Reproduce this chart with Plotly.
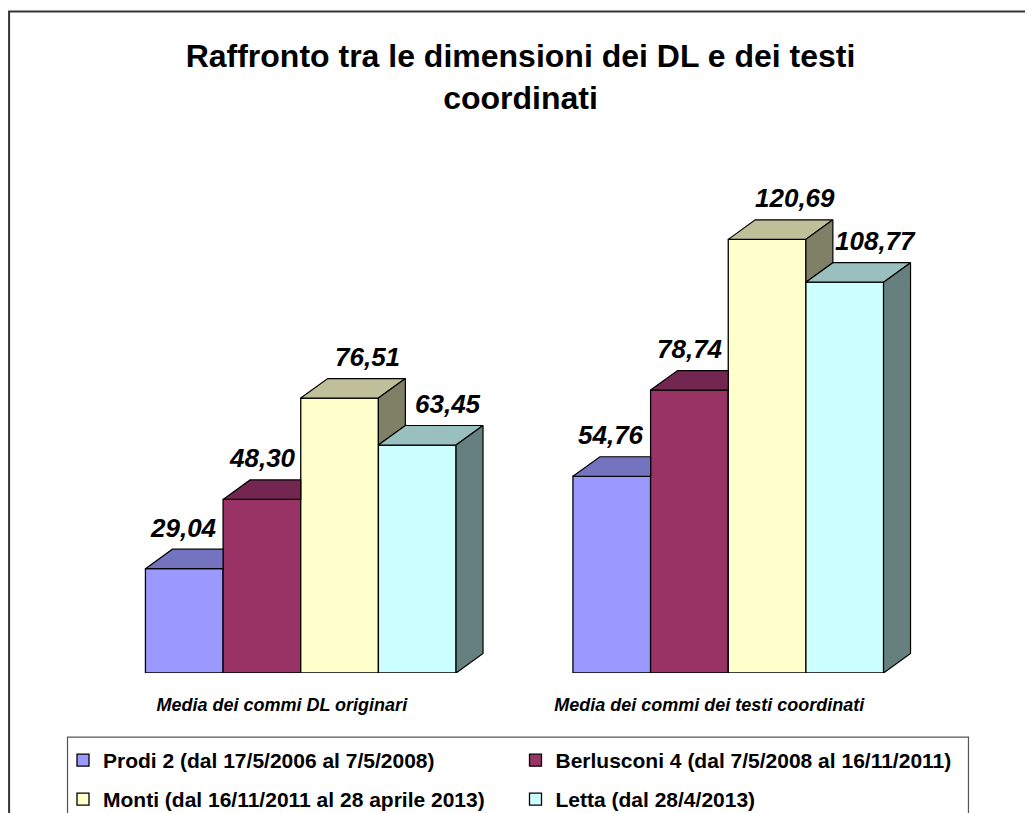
import plotly.graph_objects as go

# ---------------- data ----------------
categories = ["Media dei commi DL originari", "Media dei commi dei testi coordinati"]
series_names = [
    "Prodi 2 (dal 17/5/2006 al 7/5/2008)",
    "Berlusconi 4 (dal 7/5/2008 al 16/11/2011)",
    "Monti (dal 16/11/2011 al 28 aprile 2013)",
    "Letta (dal 28/4/2013)",
]
prodi = [29.04, 54.76]
berlusconi = [48.30, 78.74]
monti = [76.51, 120.69]
letta = [63.45, 108.77]
title_text = "Raffronto tra le dimensioni dei DL e dei testi<br>coordinati"

series_values = [prodi, berlusconi, monti, letta]

# ---------------- style ----------------
FONT = "Liberation Sans, Arial, sans-serif"
front_colors = ["#9999FF", "#993366", "#FFFFCC", "#CCFFFF"]
top_colors = ["#7373BF", "#732650", "#BFBF99", "#99BFBF"]
side_colors = ["#4D4D80", "#4D1A33", "#808066", "#668080"]
label_dx_px = [-1, 1, 28, 31]     # horizontal nudge of value labels (px)
label_dy_px = 41                   # value label height above bar top (px)
cat_label_dx_px = -19              # category labels sit slightly left
# legend entry placement on the page (left x, row centre y) in screen px
legend_pos = [(63, 759), (515.5, 759), (63, 798), (515.5, 798)]

# the page body has an 8px margin: figure spans the rest of the window
OFF = 8
W, H = 1033 - OFF, 813 - OFF
PLOT_L, PLOT_R = 86.5 - OFF, 942.5 - OFF
BASE, TOP = 673.0 - OFF, 170.4 - OFF
XR = (-0.5, 1.5)
YR = (0.0, 140.0)
px_x = (PLOT_R - PLOT_L) / (XR[1] - XR[0])
px_y = (BASE - TOP) / (YR[1] - YR[0])
DX = 27.0 / px_x     # 3D depth, x units
DY = 19.5 / px_y     # 3D depth, y units
BARGAP = 0.2734
GROUP_W = 1 - BARGAP
BW = GROUP_W / len(series_values)


def sx_paper(px):   # screen x px -> paper
    return (px - OFF - PLOT_L) / (PLOT_R - PLOT_L)


def sy_paper(py):   # screen y px -> paper
    return (BASE - (py - OFF)) / (BASE - TOP)


def fmt(v):
    return f"{v:.2f}".replace(".", ",")


legend_ids = ["legend", "legend2", "legend3", "legend4"]

fig = go.Figure()
xs = list(range(len(categories)))

# front faces (real bars)
for k, (name, vals) in enumerate(zip(series_names, series_values)):
    fig.add_trace(go.Bar(
        x=xs, y=vals, name=name,
        width=BW, offset=-GROUP_W / 2 + k * BW,
        marker=dict(color=front_colors[k], line=dict(color="black", width=1.3)),
        legend=legend_ids[k],
        hovertemplate="%{y:.2f}<extra>" + name + "</extra>",
    ))

# top and side faces
annotations = []
for g in xs:
    for k, vals in enumerate(series_values):
        v = vals[g]
        L = g - GROUP_W / 2 + k * BW
        R = L + BW
        vn = series_values[k + 1][g] if k + 1 < len(series_values) else None
        # top face, clipped by the next bar's front face
        if vn is None or vn <= v:
            tx = [L, R, R + DX, L + DX, L]
            ty = [v, v, v + DY, v + DY, v]
        elif vn >= v + DY:
            tx = [L, R, R, L + DX, L]
            ty = [v, v, v + DY, v + DY, v]
        else:
            xi = R + DX * (vn - v) / DY
            tx = [L, R, R, xi, R + DX, L + DX, L]
            ty = [v, v, vn, vn, v + DY, v + DY, v]
        fig.add_trace(go.Scatter(
            x=tx, y=ty, mode="lines", fill="toself",
            fillcolor=top_colors[k], line=dict(color="black", width=1.2),
            showlegend=False, hoverinfo="skip",
        ))
        # side face (visible only above the next bar)
        if vn is None or vn < v:
            low = 0.0 if vn is None else vn
            sxs = [R, R, R + DX, R + DX, R]
            sys_ = [low, v, v + DY, low + DY, low]
            fig.add_trace(go.Scatter(
                x=sxs, y=sys_, mode="lines", fill="toself",
                fillcolor=side_colors[k], line=dict(color="black", width=1.2),
                showlegend=False, hoverinfo="skip",
            ))
        annotations.append(dict(
            x=(L + R) / 2, y=v, xref="x", yref="y",
            text=fmt(v), showarrow=False,
            xshift=label_dx_px[k], yshift=label_dy_px,
            yanchor="middle", xanchor="center",
            font=dict(family=FONT, size=26, color="black", weight="bold", style="italic"),
        ))

shapes = [
    # outer chart frame
    dict(type="rect", xref="paper", yref="paper",
         x0=sx_paper(8.5), x1=sx_paper(1060),
         y0=sy_paper(840), y1=sy_paper(12),
         line=dict(color="#333333", width=2), fillcolor="rgba(0,0,0,0)"),
    # legend frame
    dict(type="rect", xref="paper", yref="paper",
         x0=sx_paper(67), x1=sx_paper(969),
         y0=sy_paper(840), y1=sy_paper(737),
         line=dict(color="#555555", width=1.2), fillcolor="rgba(0,0,0,0)"),
]

legends = {}
for lid, (lx, ly) in zip(legend_ids, legend_pos):
    legends[lid] = dict(
        orientation="h", xref="container", yref="container",
        xanchor="left", yanchor="top",
        x=(lx - OFF) / W, y=1 - (ly - OFF - 19) / H,
        font=dict(family=FONT, size=21, color="black", weight="bold"),
        bgcolor="rgba(0,0,0,0)", borderwidth=0,
    )

fig.update_layout(
    width=W, height=H,
    margin=dict(l=PLOT_L, r=W - PLOT_R, t=TOP, b=H - BASE, autoexpand=False),
    paper_bgcolor="white", plot_bgcolor="white",
    barmode="overlay",
    title=dict(text=title_text, x=0.5, xanchor="center", xref="container",
               y=1 - 59 / H, yanchor="top", yref="container",
               font=dict(family=FONT, size=32, color="black", weight="bold")),
    xaxis=dict(range=list(XR), tickvals=[x + cat_label_dx_px / px_x for x in xs],
               ticktext=categories, showgrid=False, zeroline=False,
               showline=False, ticks="", ticklabelstandoff=19,
               tickfont=dict(family=FONT, size=18, color="black", weight="bold", style="italic"),
               fixedrange=True),
    yaxis=dict(range=list(YR), visible=False, fixedrange=True),
    shapes=shapes,
    annotations=annotations,
    **legends,
)

fig.write_html("out.html")
